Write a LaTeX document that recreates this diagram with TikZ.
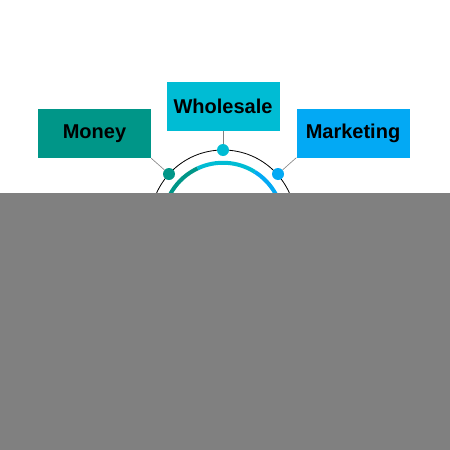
\documentclass[tikz,border=0pt]{standalone}
\usepackage{fontspec}
\setmainfont{Liberation Sans}
\definecolor{cteal}{RGB}{0,150,136}
\definecolor{ccyan}{RGB}{0,188,212}
\definecolor{cblue}{RGB}{3,169,244}
\definecolor{cgray}{RGB}{128,128,128}
\begin{document}
\begin{tikzpicture}[x=1pt,y=-1pt,
  label box/.style={minimum width=113pt,minimum height=49pt,inner sep=0pt,font=\fontsize{20}{24}\selectfont\bfseries,text=black},
  dotnode/.style={circle,minimum size=12pt,inner sep=0pt},
  link/.style={draw=gray,line width=0.6pt}]
\useasboundingbox (0,0) rectangle (450,450);
\fill[white] (0,0) rectangle (450,450);
\coordinate (C) at (223,222.75);
% outer thin circle
\draw[black,line width=0.8pt] (C) circle[radius=72.75];
% inner thick arcs (y axis points down, so upper arcs have negative angles)
\draw[cteal,line width=4pt] (C) ++(-180:60) arc[start angle=-180,end angle=-115,radius=60];
\draw[ccyan,line width=4pt] (C) ++(-115:60) arc[start angle=-115,end angle=-58,radius=60];
\draw[cblue,line width=4pt] (C) ++(-58:60) arc[start angle=-58,end angle=0,radius=60];
% boxes
\node[label box,fill=cteal] (money) at (94.5,133.5) {Money};
\node[label box,fill=ccyan] (whole) at (223,106.5) {Wholesale};
\node[label box,fill=cblue] (market) at (353,133) {Marketing};
% dots
\node[dotnode,fill=cteal] (d1) at (169,174) {};
\node[dotnode,fill=ccyan] (d2) at (223,150) {};
\node[dotnode,fill=cblue] (d3) at (278,174) {};
% connectors
\draw[link] (money.south east) -- (d1);
\draw[link] (whole.south) -- (d2);
\draw[link] (market.south west) -- (d3);
% gray cover
\fill[cgray] (0,193) rectangle (450,450);
\end{tikzpicture}
\end{document}
